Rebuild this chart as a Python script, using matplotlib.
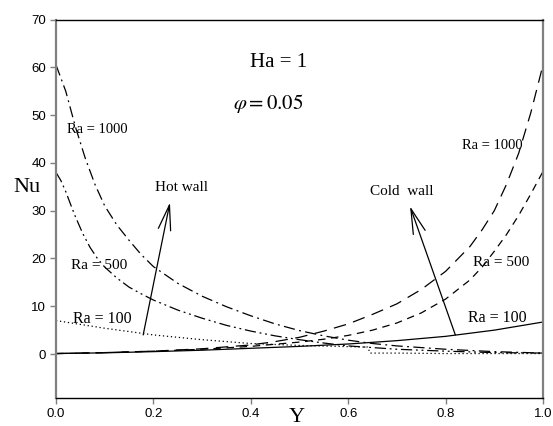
import matplotlib
matplotlib.use("Agg")
import matplotlib.pyplot as plt

plt.rcParams['font.family'] = ['Liberation Serif', 'DejaVu Serif']
plt.rcParams['mathtext.fontset'] = 'stix'

# Hot wall curves (decreasing from Y = 0)
y_hot_1000 = [0, .02, .04, .06, .08, .1, .125, .15, .175, .2, .25, .3, .35, .4, .45, .5, .55, .6, .65, .7, .8, .9, 1.0]
nu_hot_1000 = [60.5, 55, 47.5, 41, 35.5, 31, 27, 23.8, 20.8, 18.3, 14.8, 12.1, 9.9, 8.0, 6.3, 4.9, 3.8, 2.9, 2.2, 1.7, 1.0, 0.5, 0.2]

y_hot_500 = [0, .01, .02, .03, .04, .055, .07, .085, .1, .125, .15, .175, .2, .25, .3, .35, .4, .45, .5, .55, .6, .7, .8, .9, 1.0]
nu_hot_500 = [38, 36.3, 34, 31.3, 28.7, 25.2, 22.3, 20, 18.2, 15.9, 14.0, 12.6, 11.3, 9.2, 7.5, 6.0, 4.8, 3.8, 3.0, 2.3, 1.7, 1.0, 0.6, 0.3, 0.2]

y_hot_100 = [0, .1, .2, .3, .4, .5, .6, .64, .645, .7, .8, .9, 1.0]
nu_hot_100 = [7.0, 5.4, 4.0, 3.0, 2.2, 1.8, 1.55, 1.45, 0.2, 0.2, 0.1, 0.1, 0.1]

# Cold wall curves (increasing towards Y = 1)
y_cold_1000 = [0, .1, .2, .3, .4, .45, .5, .55, .6, .65, .7, .75, .8, .85, .875, .9, .925, .95, .975, 1.0]
nu_cold_1000 = [0.1, 0.3, 0.6, 1.1, 1.9, 2.6, 3.5, 4.8, 6.3, 8.3, 10.5, 13.5, 17.3, 22.5, 26, 30, 35.5, 42, 50.5, 60.5]

y_cold_500 = [0, .1, .2, .3, .4, .5, .55, .6, .65, .7, .75, .8, .85, .875, .9, .925, .95, .975, 1.0]
nu_cold_500 = [0.1, 0.3, 0.6, 1.0, 1.6, 2.5, 3.1, 3.9, 5.0, 6.5, 8.6, 11.5, 15.5, 18.2, 21.5, 25, 29, 33.5, 38.2]

y_cold_100 = [0, .1, .2, .3, .4, .5, .6, .7, .8, .9, 1.0]
nu_cold_100 = [0.1, 0.25, 0.5, 0.8, 1.2, 1.6, 2.1, 2.8, 3.7, 5.0, 6.7]

x_ticks = [0.0, 0.2, 0.4, 0.6, 0.8, 1.0]
y_ticks = [0, 10, 20, 30, 40, 50, 60, 70]

fig = plt.figure(figsize=(5.53, 4.26), dpi=100)
ax = fig.add_axes([56 / 553, 1 - 398 / 426, 487 / 553, (398 - 19.5) / 426])

lw = 0.9
ax.plot(y_hot_1000, nu_hot_1000, color='black', lw=lw, linestyle=(0, (9, 3.5, 1.5, 3.5)))
ax.plot(y_hot_500, nu_hot_500, color='black', lw=lw, linestyle=(0, (9, 3, 1.5, 3, 1.5, 3)))
ax.plot(y_hot_100, nu_hot_100, color='black', lw=lw, linestyle=(0, (1, 2.2)))
ax.plot(y_cold_1000, nu_cold_1000, color='black', lw=lw, linestyle=(0, (10, 6)))
ax.plot(y_cold_500, nu_cold_500, color='black', lw=lw, linestyle=(0, (6, 4.5)))
ax.plot(y_cold_100, nu_cold_100, color='black', lw=lw, linestyle='-')

ax.set_xlim(0, 1.0)
ax.set_ylim(-9.2, 70)
ax.set_xticks(x_ticks)
ax.set_xticklabels([f"{t:.1f}" for t in x_ticks], family='Liberation Sans', fontsize=9.5)
ax.set_yticks(y_ticks)
ax.set_yticklabels([str(t) for t in y_ticks], family='Liberation Sans', fontsize=9.5)
ax.tick_params(axis='both', direction='out', length=4, width=1, color='#808080', pad=3)

for side in ['left', 'right']:
    ax.spines[side].set_color('#808080')
    ax.spines[side].set_linewidth(1.6)
for side in ['top', 'bottom']:
    ax.spines[side].set_color('black')
    ax.spines[side].set_linewidth(1.0)

# arrows
arrow = dict(arrowstyle='->,head_length=1.8,head_width=0.45', lw=0.9, color='black',
             shrinkA=0, shrinkB=0, mutation_scale=10)
ax.annotate('', xy=(0.234, 31.7), xytext=(0.179, 4.0), arrowprops=arrow)
ax.annotate('', xy=(0.727, 30.9), xytext=(0.82, 4.0), arrowprops=arrow)

# labels
ax.text(0.458, 61.1, "Ha = 1", fontsize=15, ha='center', va='center')
ax.text(0.437, 52.5, r"$\varphi = 0.05$", fontsize=15, ha='center', va='center')
ax.text(0.258, 34.9, "Hot wall", fontsize=11, ha='center', va='center')
ax.text(0.709, 34.1, "Cold  wall", fontsize=11, ha='center', va='center')
ax.text(0.085, 46.9, "Ra = 1000", fontsize=10.5, ha='center', va='center')
ax.text(0.088, 18.6, "Ra = 500", fontsize=11, ha='center', va='center')
ax.text(0.095, 7.3, "Ra = 100", fontsize=11.5, ha='center', va='center')
ax.text(0.896, 43.7, "Ra = 1000", fontsize=10.5, ha='center', va='center')
ax.text(0.913, 19.2, "Ra = 500", fontsize=11, ha='center', va='center')
ax.text(0.907, 7.5, "Ra = 100", fontsize=11.5, ha='center', va='center')

fig.text(27 / 553, 1 - 188 / 426, "Nu", fontsize=16, ha='center', va='center')
fig.text(297 / 553, 1 - 418 / 426, "Y", fontsize=16, ha='center', va='center')

fig.savefig("out.png", dpi=100)
